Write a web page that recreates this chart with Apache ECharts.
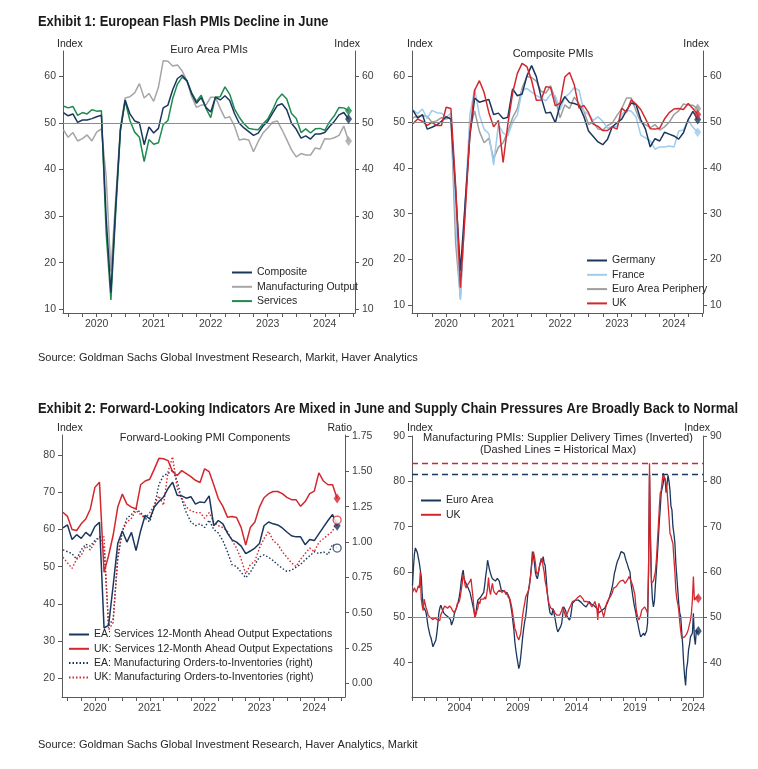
<!DOCTYPE html>
<html><head><meta charset="utf-8">
<script src="https://cdn.jsdelivr.net/npm/echarts@6/dist/echarts.min.js"></script>
<style>html,body{margin:0;padding:0;background:#fff}#c{width:758px;height:769px}</style>
</head><body><div id="c"></div>
<script>
// ---------------- DATA ----------------
// Panels 1-3: monthly, Jun 2019 .. Jun 2024
const startTop = [2019, 6];
const p1Composite = [52.2,51.5,51.9,50.1,50.6,50.6,50.9,
 51.3,51.6,29.7,13.6,31.9,48.5,54.9,51.9,50.4,50.0,45.3,49.1,
 47.8,48.8,53.2,53.8,57.1,59.5,60.2,59.0,56.2,54.2,55.4,53.3,
 52.3,55.5,54.9,55.8,54.8,52.0,49.9,48.9,48.1,47.3,47.8,49.3,
 50.3,52.0,53.7,54.1,52.8,49.9,48.6,46.7,47.2,46.5,47.6,47.6,
 47.9,49.2,50.3,51.7,52.2,50.8];
const p1MfgOutput = [48.5,46.9,47.9,46.1,46.6,47.4,46.1,
 48.0,48.7,38.5,18.1,33.6,49.0,55.3,55.6,56.4,58.4,55.3,56.3,
 54.6,57.6,63.3,63.2,62.2,62.4,61.1,59.0,55.6,53.3,53.8,53.8,
 55.5,55.5,53.1,51.0,51.3,49.3,46.3,46.5,46.3,43.8,46.0,47.8,
 48.9,50.1,50.4,48.5,46.4,44.2,42.7,43.4,43.1,43.1,44.6,44.4,
 46.6,46.5,46.8,47.3,49.3,46.1];
const p1Services = [53.6,53.2,53.5,51.6,52.2,51.9,52.8,
 52.5,52.6,26.4,12.0,30.5,48.3,54.7,50.5,48.0,46.9,41.7,46.4,
 45.4,45.7,49.6,50.5,55.2,58.3,59.8,59.0,56.4,54.6,55.9,53.1,
 51.1,55.5,55.6,57.7,56.1,53.0,51.2,49.8,48.8,48.6,48.5,49.8,
 50.8,52.7,55.0,56.2,55.1,52.0,50.9,47.9,48.7,47.8,48.7,48.8,
 48.4,50.2,51.5,53.3,53.2,52.6];

const p2Germany = [52.6,50.9,51.7,48.5,48.9,49.4,50.2,
 51.2,50.7,35.0,17.4,32.3,47.0,55.3,54.4,54.7,55.0,51.7,52.0,
 50.8,51.1,57.3,55.8,56.2,60.1,62.4,60.0,55.5,52.0,52.2,49.9,
 53.8,55.6,54.3,54.1,53.7,51.3,48.1,46.9,45.7,45.1,46.3,49.0,
 49.9,50.7,52.6,54.2,53.9,50.6,48.5,44.6,46.4,45.9,47.8,47.4,
 47.0,46.3,47.7,50.6,52.4,50.6];
const p2France = [52.7,51.9,52.9,50.8,52.6,52.1,52.0,
 51.1,52.0,28.9,11.1,32.1,51.7,57.3,51.6,48.5,47.5,40.6,49.5,
 47.7,47.0,50.0,51.6,57.0,57.4,56.6,55.9,55.3,54.7,56.1,55.8,
 52.7,55.5,56.3,57.6,57.0,52.5,51.7,50.4,51.2,50.2,48.7,49.1,
 49.1,51.7,52.7,52.4,51.2,47.2,46.6,46.0,44.1,44.6,44.6,44.8,
 44.6,48.1,48.3,50.5,48.9,47.8];
const p2Periphery = [51.0,51.3,51.4,51.3,50.0,50.3,51.0,
 50.7,51.2,23.5,11.5,31.5,48.5,52.5,48.0,45.5,46.5,42.0,44.5,
 45.5,48.0,51.0,53.0,57.5,60.0,59.8,59.0,56.8,56.4,58.0,55.0,
 51.0,53.8,53.0,55.5,54.0,52.5,49.5,50.0,48.5,48.3,49.3,49.8,
 51.5,53.0,55.3,55.3,52.5,50.0,49.5,48.8,49.5,48.3,49.0,50.0,
 51.7,52.5,54.0,53.8,53.7,53.0];
const p2UK = [49.7,50.7,50.2,49.3,50.0,49.3,49.3,
 53.3,53.0,36.0,13.8,30.0,47.7,57.0,59.1,56.5,52.1,49.0,50.4,
 41.2,49.6,56.4,60.7,62.9,62.2,59.2,54.8,54.9,57.8,57.6,53.6,
 54.2,59.9,60.9,58.2,53.1,53.7,52.1,49.6,49.1,48.2,48.2,49.0,
 48.5,53.1,52.2,54.9,54.0,52.8,50.8,48.6,48.5,48.7,50.7,52.1,
 52.9,53.0,52.8,54.1,53.0,51.7];

const p3EAServExp = [60.4,61.2,57.3,58.6,57.6,59.2,58.2,
 60.8,61.9,33.5,34.3,45.0,56.2,59.6,56.6,59.2,54.3,59.6,63.8,
 62.8,66.0,67.5,68.7,71.0,72.7,69.2,69.0,68.4,68.8,66.8,67.4,
 67.2,69.0,61.0,62.4,61.5,59.0,57.2,56.6,55.5,53.5,54.2,55.0,
 56.2,61.0,62.0,61.5,61.2,60.4,59.3,58.3,58.0,58.0,55.9,57.3,
 57.0,58.8,60.6,62.4,64.0,61.0];
const p3UKServExp = [64.6,63.5,60.0,59.7,61.5,62.8,65.5,
 71.3,72.7,48.5,53.0,58.5,66.0,69.5,66.8,66.0,65.5,72.0,73.0,
 73.5,76.2,79.1,79.0,78.5,75.5,74.5,75.8,75.0,74.2,73.2,72.6,
 76.3,75.5,72.0,68.3,66.2,63.3,63.5,63.2,60.5,55.8,60.5,62.0,
 66.0,68.5,69.6,70.2,70.2,69.6,68.6,68.0,68.0,66.2,67.5,69.6,
 70.3,75.2,73.0,72.0,72.0,68.3];
const p3EARatio = [0.944,0.931,0.918,0.878,0.944,0.984,0.971,
 1.010,1.036,0.957,0.405,0.457,0.878,1.076,1.168,1.194,1.234,1.208,1.168,
 1.142,1.247,1.405,1.471,1.484,1.510,1.431,1.300,1.208,1.142,1.115,1.129,
 1.102,1.155,1.089,1.063,1.010,0.931,0.839,0.826,0.786,0.747,0.786,0.839,
 0.894,0.908,0.892,0.868,0.839,0.813,0.792,0.800,0.821,0.842,0.873,0.902,
 0.931,0.918,0.931,0.910,0.984,0.957];
const p3UKRatio = [0.892,0.852,0.813,0.878,0.905,0.971,0.944,
 0.997,1.036,1.036,0.378,0.431,0.905,1.076,1.142,1.168,1.221,1.194,1.168,
 1.208,1.260,1.326,1.260,1.497,1.603,1.379,1.313,1.247,1.221,1.208,1.208,
 1.168,1.208,1.142,1.115,1.102,1.076,1.010,0.957,0.878,0.773,0.839,0.865,
 0.957,1.023,1.076,1.010,0.984,0.931,0.892,0.852,0.826,0.878,0.918,0.957,
 0.931,0.997,1.023,1.050,1.076,1.155];

// Panel 4: monthly, Jan 2000 .. Jun 2024
const startP4 = [2000, 1];
const p4EA = [
 57,61,64,65.3,65,64.3,64,62,60.5,59,55,52.3,
 52,51.6,51,49.5,48,47,46,45.5,44.5,43.5,43.2,43.5,
 45,46.5,48.5,50.9,52,52.7,52.3,51.5,51,50.9,50.5,50.3,
 50.1,50,50.1,49.5,48.3,48.5,49.5,50.9,51.5,52,52.3,53.5,
 54.5,56,58,59.5,60.4,58.5,57.9,57.5,57,57,56.8,55.5,
 54.5,53.5,53.1,51.5,50.1,51,52.5,53.8,53.5,54,54.5,54.6,
 54.6,55.5,57,59,60.5,62.6,61.5,60.5,59.7,59,58.5,58.3,
 58.3,58,58.2,58.6,58.5,58,57,56,56,55.8,55.7,55.5,
 55.3,55.4,55.3,54.5,53.5,52.3,51,49,47.2,44.5,42.8,41.3,
 40,38.7,39.5,41.3,43.5,45.7,47.5,49,50.1,52,54.6,56,
 57.5,59,61.5,64.5,63.5,62,60,59,58.5,59.5,61,62,
 63,62,63.4,62,61.5,59,56,54,52.3,51,51,50.5,
 52,51,50,48.7,47.5,46.8,46.6,47,48,48.7,50.5,52.3,
 52.3,51.5,50.5,50,50.1,49.4,50,51.5,53.1,53,53.5,53.8,
 53.5,53.6,53.8,53.8,53.6,53.3,53,52.8,52.6,52.4,52.3,52.5,
 53,53.5,53.4,53,52.8,52.7,52.6,52.5,52.3,52,51.5,51,
 50.9,51.2,51.5,51.6,51.8,52,52.3,52.8,53.3,53.8,54.5,55.3,
 56,57,58.2,59.7,60.5,61.5,62.3,62.7,63.3,64,64.5,64.5,
 64.3,64.1,63.3,62.5,61.9,61.2,60.5,60,57.5,56,54.5,53.1,
 52,51,49.5,48.7,47.5,46.5,45.7,45.8,46.1,46.5,46,45.7,
 47,48.7,60,81.5,66,58,54,52.3,53.5,57,60,63.5,
 67,71,74,77.5,78.5,79.5,81,80.5,77.5,79.5,81.3,80,
 78,74.5,73.7,70,68.5,66.5,62,59,56,53,51,50.1,
 47,44,40,37,35,38.7,40,42.8,44,45.7,46,46.5,
 50.9,45.7,44,47.2,46.5,47];
const p4UK = [
 55.5,56,56.5,56,55.5,55.5,57,56.5,60,54,52.5,51.5,
 54,53,52,51.5,50.5,50.5,50,50.3,50,49.5,49.7,50,
 50,49.5,49.3,49.8,49.3,50.5,51,51.5,52,52.5,52.3,52.6,
 52,52.4,52.5,52.8,52,51.5,51.8,51,51.2,52,53,53,
 53.5,54.5,56,57.5,59.5,58.5,57,56.5,57,57,56.8,58,
 58.5,56.5,54.5,52,50,50.5,51.5,52,53.5,53,54,54.2,
 54.2,54,54.5,54,55,56.5,58.8,56,55,56.5,57.5,56,
 55.5,55.5,55,55.5,55.5,56,56,55.7,55.5,55.5,56,55.5,
 55,55.5,54.5,54.5,54,53,52,50.5,49,47.5,47,46,
 45.5,45,45.3,46.5,48.5,50.5,52,53,54.5,55,55.5,56,
 57,59,61,63,64.5,63.5,62,60,59.5,60,61,62,
 62.5,63,61,60,58,57,55.5,54,53,52.5,52,52,
 52,51.5,51,50.9,50.5,50.1,50.3,50.5,51,51.5,52.3,52,
 51,50.1,50.5,51,51.6,52,52.5,53,53.5,53.3,53.8,53.8,
 54,54.3,54.6,54.5,54.8,54.9,54.5,54,53.5,53.1,53.3,53.5,
 53.5,53.3,53,52.7,52.3,52.5,53,53.5,53.3,52,49.4,53.1,
 53.1,52,51.5,50.9,50.1,51,52,53.1,53.5,54,54.3,54.6,
 54.6,55.5,56.4,56.5,56.8,56.8,57,57.5,57.9,58,58.2,58.2,
 58.2,58,57.5,57.5,57.8,58.5,59,58.5,58,57.5,56.8,56.8,
 55,52.5,50.9,50,49.4,49.5,50.5,51.6,51.8,52,52.3,52.3,
 51.5,50.9,60,84,68.5,57.5,57.5,58,59,60,62.5,66.3,
 70,74,77.4,78,80,81.8,82.1,82,79.6,78,75,72,
 68.5,68,67,66.3,63,60,56,54,53,51.6,49,47,
 45.4,45.2,45.5,45.7,46,46.3,46.8,47.5,48.5,49.4,51,54,
 59,53.8,54,53.5,54.6,54.2];
const p4HistMaxEA = 81.5;
const p4HistMaxUK = 84;

// tick / label values
const topYearLabels = [2020, 2021, 2022, 2023, 2024];
const topQuarterTicks = [2019.5,2019.75,2020,2020.25,2020.5,2020.75,2021,2021.25,2021.5,2021.75,2022,2022.25,2022.5,2022.75,2023,2023.25,2023.5,2023.75,2024,2024.25,2024.5];
const p12YTicks = [10,20,30,40,50,60];
const p3LeftTicks = [20,30,40,50,60,70,80];
const p3RightTicks = [0,0.25,0.5,0.75,1,1.25,1.5,1.75];
const p4YTicks = [40,50,60,70,80,90];
const p4YearLabels = [2004, 2009, 2014, 2019, 2024];
const p4YearTicks = [2000,2001,2002,2003,2004,2005,2006,2007,2008,2009,2010,2011,2012,2013,2014,2015,2016,2017,2018,2019,2020,2021,2022,2023,2024];

// ---------------- CHART ----------------
const NAVY = '#1b365d', GREEN = '#1e8a50', MGRAY = '#a6a6a6', LBLUE = '#9fcbed', PGRAY = '#9e9e9e', RED = '#d3272e';
const AX = '#595959', LBL = '#404040';
const FONT = '"Liberation Sans", Arial, sans-serif';

function monthly(start, vals) { return vals.map((v, i) => [start[0] + (start[1] - 1 + i) / 12, v]); }
function lastPt(start, vals) { const d = monthly(start, vals); return [d[d.length - 1]]; }

function xAx(grid, min, max, ticks, labels) {
  return { type: 'value', gridIndex: grid, min, max,
    axisLine: { show: true, onZero: false, lineStyle: { color: AX, width: 1 } },
    axisTick: { show: true, length: 4, customValues: ticks, lineStyle: { color: AX } },
    axisLabel: { customValues: labels, formatter: v => String(Math.round(v)), color: LBL, fontSize: 10.5, fontFamily: FONT, margin: 6 },
    splitLine: { show: false } };
}
function yAx(grid, pos, min, max, ticks, fmt) {
  return { type: 'value', gridIndex: grid, position: pos, min, max,
    axisLine: { show: true, lineStyle: { color: AX, width: 1 } },
    axisTick: { show: true, length: 4, customValues: ticks, lineStyle: { color: AX } },
    axisLabel: { customValues: ticks, formatter: fmt || (v => String(v)), color: LBL, fontSize: 10.5, fontFamily: FONT, margin: 7 },
    splitLine: { show: false } };
}
function line(name, xi, yi, start, vals, color, opts) {
  opts = opts || {};
  return Object.assign({ type: 'line', name, xAxisIndex: xi, yAxisIndex: yi, data: monthly(start, vals),
    showSymbol: false, symbol: 'none', silent: true, z: opts.z || 2,
    lineStyle: { color, width: opts.width || 1.5, type: opts.type || 'solid' }, itemStyle: { color } }, opts.extra || {});
}
function endMark(xi, yi, start, vals, color, kind) {
  const s = { type: 'scatter', xAxisIndex: xi, yAxisIndex: yi, data: lastPt(start, vals), silent: true, z: 5 };
  if (kind === 'circle') {
    s.symbol = 'circle'; s.symbolSize = 8;
    s.itemStyle = { color: '#fff', borderColor: color, borderWidth: 1.3 };
  } else {
    s.symbol = 'diamond'; s.symbolSize = [7, 10];
    s.itemStyle = { color };
  }
  return s;
}
const fiftyLine = { silent: true, symbol: 'none', label: { show: false }, lineStyle: { color: '#8c8c8c', width: 1.2, type: 'solid' }, data: [{ yAxis: 50 }] };
function dashMax(v, color) {
  return { silent: true, symbol: 'none', label: { show: false }, lineStyle: { color, width: 1.3, type: [6, 4] }, data: [{ yAxis: v }] };
}

const grids = [
  { left: 63, top: 51, width: 292, height: 262 },
  { left: 412, top: 51, width: 291, height: 262 },
  { left: 62, top: 435, width: 283, height: 262 },
  { left: 412, top: 436, width: 291, height: 261 }
];
const xAxes = [
  xAx(0, 2019.41, 2024.53, topQuarterTicks, topYearLabels),
  xAx(1, 2019.40, 2024.51, topQuarterTicks, topYearLabels),
  xAx(2, 2019.40, 2024.56, topQuarterTicks, topYearLabels),
  xAx(3, 1999.96, 2024.82, p4YearTicks, p4YearLabels)
];
const yAxes = [
  yAx(0, 'left', 9.2, 65.4, p12YTicks), yAx(0, 'right', 9.2, 65.4, p12YTicks),
  yAx(1, 'left', 8.25, 65.6, p12YTicks), yAx(1, 'right', 8.25, 65.6, p12YTicks),
  yAx(2, 'left', 14.98, 85.37, p3LeftTicks), yAx(2, 'right', -0.097, 1.757, p3RightTicks, v => v.toFixed(2)),
  yAx(3, 'left', 32.43, 90, p4YTicks), yAx(3, 'right', 32.43, 90, p4YTicks)
];

const series = [
  // Panel 1
  line('Manufacturing Output', 0, 0, startTop, p1MfgOutput, MGRAY, { extra: { markLine: fiftyLine } }),
  line('Services', 0, 0, startTop, p1Services, GREEN),
  line('Composite', 0, 0, startTop, p1Composite, NAVY, { z: 3 }),
  endMark(0, 0, startTop, p1MfgOutput, MGRAY), endMark(0, 0, startTop, p1Services, GREEN), endMark(0, 0, startTop, p1Composite, NAVY),
  // Panel 2
  line('Euro Area Periphery', 1, 2, startTop, p2Periphery, PGRAY, { extra: { markLine: fiftyLine } }),
  line('France', 1, 2, startTop, p2France, LBLUE),
  line('Germany', 1, 2, startTop, p2Germany, NAVY),
  line('UK', 1, 2, startTop, p2UK, RED, { z: 3 }),
  endMark(1, 2, startTop, p2Periphery, PGRAY), endMark(1, 2, startTop, p2France, LBLUE),
  endMark(1, 2, startTop, p2Germany, NAVY), endMark(1, 2, startTop, p2UK, RED),
  // Panel 3
  line('EA: Manufacturing Orders-to-Inventories (right)', 2, 5, startTop, p3EARatio, NAVY, { type: [1.5, 2], width: 1.4 }),
  line('UK: Manufacturing Orders-to-Inventories (right)', 2, 5, startTop, p3UKRatio, RED, { type: [1.5, 2], width: 1.4 }),
  line('EA: Services 12-Month Ahead Output Expectations', 2, 4, startTop, p3EAServExp, NAVY, { z: 3 }),
  line('UK: Services 12-Month Ahead Output Expectations', 2, 4, startTop, p3UKServExp, RED, { z: 3 }),
  endMark(2, 4, startTop, p3EAServExp, NAVY), endMark(2, 4, startTop, p3UKServExp, RED),
  endMark(2, 5, startTop, p3EARatio, NAVY, 'circle'), endMark(2, 5, startTop, p3UKRatio, RED, 'circle'),
  // Panel 4
  line('Euro Area', 3, 6, startP4, p4EA, NAVY, { width: 1.3, extra: { markLine: { silent: true, symbol: 'none', label: { show: false }, data: [
      { yAxis: 50, lineStyle: { color: '#8c8c8c', width: 1.2, type: 'solid' } },
      { yAxis: p4HistMaxEA, lineStyle: { color: NAVY, width: 1.3, type: [6, 4] } } ] } } }),
  line('UK ', 3, 6, startP4, p4UK, RED, { width: 1.3, z: 3, extra: { markLine: dashMax(p4HistMaxUK, RED) } }),
  endMark(3, 6, startP4, p4EA, NAVY), endMark(3, 6, startP4, p4UK, RED)
];

const legText = { fontSize: 10.5, color: '#262626', fontFamily: FONT };
const legendBase = { orient: 'vertical', itemWidth: 20, itemHeight: 10, itemGap: 3.3, textStyle: legText, selectedMode: false, padding: 0,
  itemStyle: { opacity: 0, borderWidth: 0 } };
const legends = [
  Object.assign({ left: 231, top: 267, data: ['Composite', 'Manufacturing Output', 'Services'] }, legendBase),
  Object.assign({ left: 586, top: 255, data: ['Germany', 'France', 'Euro Area Periphery', 'UK'] }, legendBase),
  Object.assign({ left: 68, top: 629, data: ['EA: Services 12-Month Ahead Output Expectations', 'UK: Services 12-Month Ahead Output Expectations', 'EA: Manufacturing Orders-to-Inventories (right)', 'UK: Manufacturing Orders-to-Inventories (right)'] }, legendBase),
  Object.assign({ left: 420, top: 495, data: ['Euro Area', 'UK '] }, legendBase)
];

function txt(text, x, y, opts) {
  opts = opts || {};
  return { type: 'text', x, y, scaleX: opts.scaleX || 1, silent: true, style: { text, fill: opts.fill || '#262626',
    font: opts.font || ('10.5px ' + FONT), textAlign: opts.align || 'left', textVerticalAlign: 'middle' } };
}
// condensed bold header: scale to match a narrow face
const HFONT = 'bold 15px "Liberation Sans", Arial, sans-serif';
const cv = document.createElement('canvas').getContext('2d');
cv.font = HFONT;
const h2 = 'Exhibit 2: Forward-Looking Indicators Are Mixed in June and Supply Chain Pressures Are Broadly Back to Normal';
const hScale = Math.min(1, 700 / cv.measureText(h2).width);

const graphics = [
  txt('Exhibit 1: European Flash PMIs Decline in June', 38, 22, { font: HFONT, scaleX: hScale, fill: '#1a1a1a' }),
  txt(h2, 38, 409, { font: HFONT, scaleX: hScale, fill: '#1a1a1a' }),
  txt('Source: Goldman Sachs Global Investment Research, Markit, Haver Analytics', 38, 358, { font: '11px ' + FONT }),
  txt('Source: Goldman Sachs Global Investment Research, Haver Analytics, Markit', 38, 745, { font: '11px ' + FONT }),
  txt('Euro Area PMIs', 209, 50, { align: 'center', font: '11px ' + FONT }),
  txt('Composite PMIs', 553, 54, { align: 'center', font: '11px ' + FONT }),
  txt('Forward-Looking PMI Components', 205, 438, { align: 'center', font: '11px ' + FONT }),
  txt('Manufacturing PMIs: Supplier Delivery Times (Inverted)', 558, 438, { align: 'center', font: '11px ' + FONT }),
  txt('(Dashed Lines = Historical Max)', 558, 450, { align: 'center', font: '11px ' + FONT }),
  txt('Index', 57, 44, { font: '10.5px ' + FONT }),
  txt('Index', 360, 44, { align: 'right', font: '10.5px ' + FONT }),
  txt('Index', 407, 44, { font: '10.5px ' + FONT }),
  txt('Index', 709, 44, { align: 'right', font: '10.5px ' + FONT }),
  txt('Index', 57, 428, { font: '10.5px ' + FONT }),
  txt('Ratio', 352, 428, { align: 'right', font: '10.5px ' + FONT }),
  txt('Index', 407, 428, { font: '10.5px ' + FONT }),
  txt('Index', 710, 428, { align: 'right', font: '10.5px ' + FONT })
];

const chart = echarts.init(document.getElementById('c'), null, { renderer: 'canvas', width: 758, height: 769 });
chart.setOption({
  animation: false,
  backgroundColor: '#ffffff',
  textStyle: { fontFamily: FONT },
  grid: grids, xAxis: xAxes, yAxis: yAxes, series, legend: legends, graphic: graphics
});
</script>
</body></html>
